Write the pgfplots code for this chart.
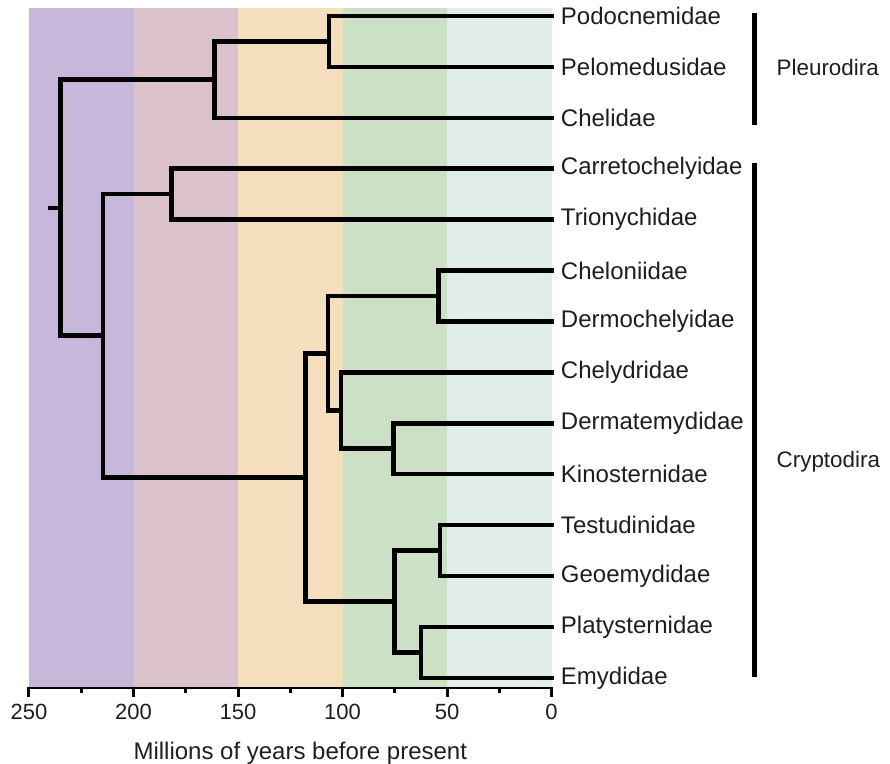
\documentclass[border=0pt]{standalone}
\usepackage{pgfplots}
\pgfplotsset{compat=1.18}
\usepackage{fontspec}
\setmainfont{Liberation Sans}
\definecolor{cpurple}{RGB}{198,183,219}
\definecolor{cmauve}{RGB}{219,193,204}
\definecolor{cpeach}{RGB}{244,222,189}
\definecolor{cgreen}{RGB}{204,224,198}
\definecolor{cblue}{RGB}{224,237,235}
\definecolor{txt}{RGB}{30,30,30}
\begin{document}
\begin{tikzpicture}
\begin{axis}[
  scale only axis,
  width=261.3pt, height=339.5pt,
  x dir=reverse, y dir=reverse,
  xmin=0, xmax=250, ymin=0.843, ymax=14.18,
  axis x line*=bottom, axis y line=none,
  xtick={0,50,...,250}, minor xtick={25,75,...,225},
  tick align=outside, major tick length=5pt, minor tick length=3pt,
  x axis line style={line width=1.5pt, black},
  tick style={line width=1.5pt, black},
  /pgf/number format/assume math mode=true,
  xticklabel style={font=\fontsize{11}{13}\selectfont, text=txt},
  xlabel={Millions of years before present},
  xlabel style={font=\fontsize{12}{14}\selectfont, text=txt, at={(axis description cs:0.5,0)}, anchor=center, yshift=-33pt, xshift=5pt},
  clip=false,
  tree/.style={line width=2.3pt, black, line cap=rect, line join=miter, mark=none},
]
% geological bands
\addplot[draw=none, fill=cpurple] coordinates {(250,0.843) (200,0.843) (200,14.18) (250,14.18)} -- cycle;
\addplot[draw=none, fill=cmauve] coordinates {(200,0.843) (150,0.843) (150,14.18) (200,14.18)} -- cycle;
\addplot[draw=none, fill=cpeach] coordinates {(150,0.843) (100,0.843) (100,14.18) (150,14.18)} -- cycle;
\addplot[draw=none, fill=cgreen] coordinates {(100,0.843) (50,0.843) (50,14.18) (100,14.18)} -- cycle;
\addplot[draw=none, fill=cblue] coordinates {(50,0.843) (0,0.843) (0,14.18) (50,14.18)} -- cycle;
% tree
\addplot[tree] coordinates {(0,1) (106.5,1) (106.5,2) (0,2)};
\addplot[tree] coordinates {(106.5,1.5) (161.2,1.5) (161.2,3) (0,3)};
\addplot[tree] coordinates {(0,4) (181.7,4) (181.7,5) (0,5)};
\addplot[tree] coordinates {(0,6) (54,6) (54,7) (0,7)};
\addplot[tree] coordinates {(0,9) (75.7,9) (75.7,10) (0,10)};
\addplot[tree] coordinates {(0,8) (100.8,8) (100.8,9.5) (75.7,9.5)};
\addplot[tree] coordinates {(54,6.5) (107,6.5) (107,8.75) (100.8,8.75)};
\addplot[tree] coordinates {(0,11) (53.4,11) (53.4,12) (0,12)};
\addplot[tree] coordinates {(0,13) (62.4,13) (62.4,14) (0,14)};
\addplot[tree] coordinates {(53.4,11.5) (75.1,11.5) (75.1,13.5) (62.4,13.5)};
\addplot[tree] coordinates {(107,7.625) (117.8,7.625) (117.8,12.5) (75.1,12.5)};
\addplot[tree] coordinates {(181.7,4.5) (214.6,4.5) (214.6,10.06) (117.8,10.06)};
\addplot[tree] coordinates {(161.2,2.25) (234.8,2.25) (234.8,7.28) (214.6,7.28)};
\addplot[tree] coordinates {(234.8,4.77) (239.8,4.77)};
% group bars
\addplot[line width=2.2pt, black, mark=none] coordinates {(-97,0.94) (-97,3.14)};
\addplot[line width=2.2pt, black, mark=none] coordinates {(-97,3.89) (-97,13.99)};
% leaf labels
\foreach \lab [count=\i] in {Podocnemidae,Pelomedusidae,Chelidae,Carretochelyidae,Trionychidae,Cheloniidae,Dermochelyidae,Chelydridae,Dermatemydidae,Kinosternidae,Testudinidae,Geoemydidae,Platysternidae,Emydidae}{
  \edef\temp{\noexpand\node[anchor=west, inner sep=0pt, font=\noexpand\fontsize{12}{14}\noexpand\selectfont, text=txt] at (axis cs:-4.3,\i) {\lab};}
  \temp
}
\node[anchor=west, inner sep=0pt, font=\fontsize{11.2}{13}\selectfont, text=txt] at (axis cs:-107.5,2.02) {Pleurodira};
\node[anchor=west, inner sep=0pt, font=\fontsize{11.2}{13}\selectfont, text=txt] at (axis cs:-107.5,9.76) {Cryptodira};
\end{axis}
\pgfresetboundingbox
\useasboundingbox (-14.5pt,-38.5pt) rectangle (430.5pt,343.5pt);
\end{tikzpicture}
\end{document}
